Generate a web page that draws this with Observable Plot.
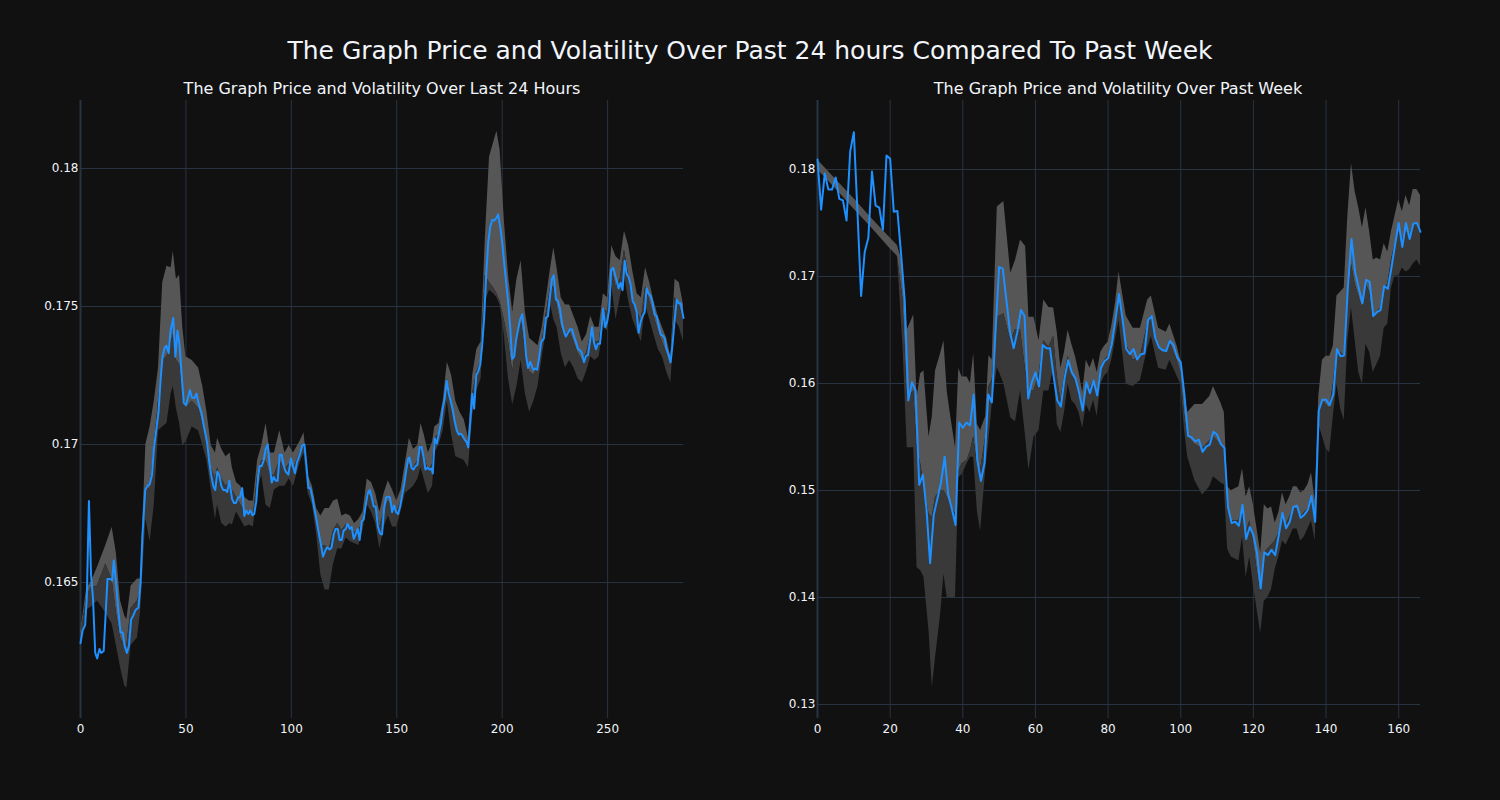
<!DOCTYPE html>
<html><head><meta charset="utf-8">
<script src="https://cdn.jsdelivr.net/npm/d3@7"></script>
<script src="https://cdn.jsdelivr.net/npm/@observablehq/plot@0.6"></script>
<style>
body{margin:0;background:#111111;width:1500px;height:800px;overflow:hidden;font-family:"DejaVu Sans",sans-serif;}
#wrap{position:relative;width:1500px;height:800px;background:#111111;}
.t{position:absolute;color:#f2f5fa;white-space:nowrap;transform:translate(-50%,-50%);line-height:1;}
.panel{position:absolute;top:0;}
</style></head><body>
<div id="wrap">
<div class="t" style="left:750px;top:50px;font-size:25px">The Graph Price and Volatility Over Past 24 hours Compared To Past Week</div>
<div class="t" style="left:382px;top:89px;font-size:16px">The Graph Price and Volatility Over Last 24 Hours</div>
<div class="t" style="left:1118px;top:89px;font-size:16px">The Graph Price and Volatility Over Past Week</div>
<div id="p1" class="panel" style="left:0"></div>
<div id="p2" class="panel" style="left:750px"></div>
</div>
<script>
// ---------- Last 24 hours ----------
const hourX = [0,1,2.2,3,4,5,5.9,7,7.9,9,9.8,11,12.8,14.2,15,15.8,17,18,19,20,20.9,22,23,24,25,26.1,27.5,28.5,29.4,30.7,31.6,32.8,33.9,34.8,35.9,37,38,38.9,39.9,40.8,41.8,42.7,44,45,46,47,48.1,49,50,51,51.9,52.8,54,55,56.2,57.3,58.4,59.3,60.1,61,62,63,63.9,64.9,65.8,66.8,67.7,68.7,69.6,70.6,71.9,72.8,73.7,74.7,75.6,76.7,77.7,78.6,79.6,80.5,81.5,82.4,83.4,84.3,85,85.9,86.9,87.8,88.8,89.7,90.7,91.6,92.6,93.5,94.5,95.4,96.4,97.3,98.6,99.8,100.8,101.7,102.7,104,105.2,106.2,107.1,108.1,109,110,110.9,111.9,112.8,114.1,115,116,116.9,118.2,119.1,120.1,121,122,122.9,123.9,124.8,125.8,126.7,127.7,128.6,129.6,130.5,131.5,132.4,133.4,134.3,135.3,136.2,137.2,138.1,139.1,140,141.1,142.1,143,144,144.9,145.9,146.8,147.8,148.7,149.7,150.6,151.6,152.5,153.5,154.4,155.4,156,157,157.9,158.9,159.8,160.8,161.7,162.7,163.6,164.6,165.5,166.5,167.1,168,169,169.9,170.9,171.8,172.8,173.7,174.7,175.6,176.6,177.5,178.5,179.4,180.4,181.3,182.3,183.2,183.9,184.8,185.8,186.7,187.7,188.6,189.6,190.5,191.5,192.4,193.4,194.3,195.3,196.2,197.2,198.1,199.1,200,201,201.9,202.8,203.8,204.7,205.7,206.6,207.6,208.5,209.5,210.4,211.4,212.3,213.3,214.7,215.7,216.6,217.6,218.5,219.8,220.7,221.7,222.6,223.6,224.5,225.5,226.4,227.4,228.4,229.3,230.2,231.2,232.2,233.1,234.1,235,236,236.9,237.8,238.8,239.7,240.7,241.6,242.6,243.5,244.5,245.4,246.4,247.3,247.9,248.9,249.8,250.8,251.7,252.7,253.6,254.6,255.2,256.2,257.1,258.1,259,260,260.9,261.9,262.8,263.8,264.7,265.7,266.6,267.6,268.5,269.5,270.4,271.4,272.3,273.3,274.2,275.2,276.1,277.1,278,279,279.9,280.9,281.8,282.8,283.7,284.7,286];
const hourPrice = [0.1628,0.16326,0.16346,0.16446,0.16795,0.16527,0.16446,0.16245,0.16225,0.16259,0.16245,0.16252,0.16513,0.16513,0.16507,0.1658,0.16487,0.16393,0.16319,0.16319,0.16272,0.16245,0.16272,0.16366,0.1638,0.164,0.16409,0.165,0.16674,0.16835,0.16849,0.16855,0.16889,0.16983,0.1705,0.17117,0.17237,0.17318,0.17351,0.17358,0.17331,0.17412,0.17458,0.17318,0.17412,0.17358,0.17237,0.1715,0.17143,0.1717,0.17197,0.1717,0.17168,0.17184,0.17143,0.17117,0.1707,0.17036,0.17003,0.16942,0.16889,0.16849,0.16835,0.16902,0.16889,0.16849,0.16835,0.16835,0.16828,0.16869,0.16802,0.16788,0.16788,0.16808,0.16808,0.16842,0.16741,0.16761,0.16748,0.16761,0.16744,0.16748,0.16795,0.16889,0.16922,0.16922,0.16942,0.16983,0.17,0.16929,0.16862,0.16882,0.16869,0.16869,0.16963,0.16963,0.16922,0.16902,0.16891,0.16949,0.16922,0.16896,0.16936,0.16963,0.16997,0.17,0.16929,0.16842,0.16842,0.16808,0.16768,0.16728,0.16688,0.16634,0.16594,0.16614,0.16627,0.1662,0.16627,0.16674,0.16694,0.16694,0.16654,0.16654,0.16688,0.16694,0.16712,0.16694,0.16701,0.16658,0.16674,0.16694,0.16654,0.16721,0.16728,0.16782,0.16822,0.16835,0.16808,0.16775,0.16775,0.16701,0.16677,0.16674,0.16768,0.16808,0.16811,0.16808,0.16755,0.16779,0.16755,0.16748,0.16775,0.16815,0.16855,0.16902,0.16949,0.16953,0.16916,0.16909,0.16922,0.16926,0.16989,0.16992,0.16956,0.16909,0.16916,0.16909,0.16913,0.16895,0.17023,0.17003,0.17036,0.17076,0.1713,0.1717,0.17231,0.17184,0.17157,0.17123,0.17083,0.1705,0.17036,0.17039,0.1703,0.17016,0.17009,0.16989,0.17076,0.17184,0.1713,0.17251,0.17264,0.17291,0.17358,0.17465,0.17613,0.17733,0.17787,0.17814,0.17811,0.1782,0.17834,0.17787,0.17733,0.17653,0.17586,0.17519,0.17425,0.17311,0.17318,0.17378,0.17418,0.17452,0.17472,0.17412,0.17318,0.17277,0.17300,0.17271,0.17275,0.17271,0.17318,0.17371,0.17385,0.17458,0.17465,0.17532,0.17599,0.17613,0.17525,0.17521,0.17492,0.17438,0.17409,0.17391,0.17405,0.17418,0.17418,0.17391,0.17371,0.17345,0.17342,0.17331,0.17298,0.1732,0.17324,0.17371,0.17425,0.17371,0.17345,0.17365,0.17365,0.17438,0.17492,0.17425,0.17445,0.17492,0.17633,0.1764,0.17613,0.17586,0.17566,0.17586,0.17559,0.17666,0.17619,0.17606,0.17579,0.17519,0.17508,0.17479,0.17405,0.17445,0.17465,0.17479,0.17566,0.17546,0.17539,0.17512,0.17472,0.17465,0.17432,0.17398,0.17395,0.17385,0.17345,0.17324,0.17298,0.17371,0.17452,0.17525,0.17512,0.17512,0.17458];
const hourBandX = [0,3,5,8,12,15,17,19,21,22,24,27,28.5,31,33,35,37,39,41,43,44,45.5,47,48.5,50,53,56,58,60,62,64,65,67,69,71,72,74,76,78,80,82,84,86,88,90,92,94.5,97,99,101,104,106,108,110,112,114,116,118,120,122,124,126,128,130,132,134,136,138,140,142,144,146,148,150,152,154,156,158,160,161.5,163,165,167,168,170,172,174,176,178,180,182,184,186,188,190,192,194,196,197.5,199,201,203,205,207,209,211,213,215,217,219,221,223,224.5,226,228,230,232,234,236,238,240,242,244,246,248,250,252,254,256,258,260,262,264,266,268,270,272,274,276,278,280,282,284,286];
const hourUpper = [0.1632,0.1648,0.165,0.16554,0.16634,0.167,0.16607,0.16433,0.16379,0.16366,0.16487,0.16513,0.16513,0.17,0.17063,0.17157,0.17277,0.17586,0.17646,0.1764,0.177,0.17599,0.17613,0.17425,0.17318,0.17304,0.17277,0.1721,0.17117,0.16996,0.16969,0.17023,0.16983,0.16956,0.16969,0.16916,0.16862,0.16849,0.16808,0.16795,0.16795,0.16942,0.16996,0.17076,0.16969,0.16969,0.1705,0.16969,0.16996,0.16969,0.17009,0.17043,0.16889,0.16849,0.16768,0.16741,0.16768,0.16768,0.16795,0.16802,0.16741,0.16748,0.16741,0.16714,0.16728,0.16755,0.16875,0.16862,0.16822,0.16755,0.16822,0.16869,0.16835,0.16795,0.16835,0.16929,0.17023,0.16983,0.16996,0.17076,0.17036,0.16969,0.17009,0.17063,0.17076,0.17157,0.17298,0.17251,0.17157,0.17117,0.1709,0.17023,0.17251,0.17345,0.17371,0.17747,0.18042,0.18095,0.18135,0.18068,0.17814,0.17613,0.17479,0.17599,0.17666,0.17479,0.17385,0.17371,0.17358,0.17425,0.17532,0.1764,0.17713,0.1764,0.17532,0.17505,0.17505,0.17465,0.17425,0.17371,0.17398,0.17465,0.17425,0.17425,0.17546,0.17532,0.1772,0.1768,0.17666,0.17773,0.1772,0.17626,0.17546,0.17532,0.1764,0.17586,0.17519,0.17465,0.17425,0.17385,0.17318,0.17599,0.17586,0.17505];
const hourMid = [0.163,0.1645,0.1648,0.16487,0.16567,0.1651,0.16393,0.16299,0.16272,0.16272,0.16406,0.16433,0.1647,0.16849,0.16835,0.16996,0.17157,0.17304,0.17318,0.17371,0.17398,0.17304,0.17291,0.17197,0.1713,0.17157,0.1713,0.17076,0.17023,0.16916,0.16875,0.16916,0.16875,0.16849,0.16862,0.16835,0.16808,0.16782,0.16755,0.16755,0.16741,0.16889,0.16942,0.16942,0.16889,0.16889,0.16942,0.16909,0.16929,0.16909,0.16969,0.16996,0.16855,0.16822,0.16728,0.16634,0.16634,0.1662,0.16688,0.16714,0.16688,0.16708,0.16701,0.16681,0.16688,0.16721,0.16822,0.16808,0.16782,0.16701,0.16755,0.16795,0.16768,0.16755,0.16795,0.16875,0.16929,0.16916,0.16942,0.16996,0.16962,0.16902,0.16929,0.17023,0.17036,0.17103,0.17237,0.17157,0.17063,0.17036,0.17016,0.16983,0.17184,0.17264,0.17304,0.17613,0.17586,0.17566,0.17546,0.17519,0.17452,0.17371,0.17264,0.17371,0.17452,0.17345,0.17264,0.17251,0.17277,0.17371,0.17479,0.17572,0.17572,0.17505,0.17425,0.17398,0.17412,0.17371,0.17331,0.17304,0.17331,0.17398,0.17371,0.17371,0.17492,0.17479,0.17639,0.17572,0.17599,0.17706,0.17613,0.17532,0.17479,0.17452,0.17572,0.17519,0.17465,0.17412,0.17371,0.17331,0.17277,0.17532,0.17505,0.17452];
const hourLower = [0.1627,0.164,0.1641,0.16433,0.1639,0.1635,0.16272,0.16192,0.16125,0.16118,0.16272,0.16299,0.16393,0.1673,0.16648,0.16781,0.1705,0.17063,0.17076,0.17184,0.1721,0.1713,0.17076,0.16996,0.17009,0.17063,0.1705,0.16996,0.16942,0.16835,0.16728,0.16781,0.16714,0.16701,0.16714,0.16708,0.16755,0.16728,0.16701,0.16708,0.16701,0.16835,0.16889,0.16781,0.16768,0.16835,0.16849,0.16849,0.16875,0.16849,0.16929,0.16969,0.16822,0.16781,0.16674,0.16527,0.16473,0.16473,0.16567,0.16621,0.16621,0.16661,0.16648,0.16641,0.16634,0.16688,0.16782,0.16755,0.16714,0.16621,0.16701,0.16741,0.16701,0.16701,0.16755,0.16822,0.16835,0.16849,0.16875,0.16916,0.16875,0.16822,0.16849,0.16969,0.16996,0.1705,0.17157,0.17036,0.16956,0.16949,0.16942,0.16916,0.17103,0.17197,0.17237,0.17519,0.17559,0.17546,0.17532,0.17505,0.17398,0.17237,0.17143,0.1721,0.17304,0.17184,0.17117,0.17157,0.1721,0.17318,0.17412,0.17505,0.17452,0.17425,0.17331,0.17278,0.17304,0.17278,0.17238,0.17224,0.17264,0.17318,0.17304,0.17318,0.17425,0.17412,0.17573,0.17452,0.17532,0.17613,0.17519,0.17452,0.17412,0.17371,0.17505,0.17452,0.17398,0.17345,0.17318,0.17264,0.17224,0.17452,0.17425,0.17371];
const hourXTicks = [0,50,100,150,200,250];
const hourYTicks = [0.165,0.17,0.175,0.18];

// ---------- Past week ----------
const weekX = d3.range(0,167);
const weekPrice = [0.18094,0.17625,0.17962,0.17812,0.17812,0.17925,0.17726,0.17711,0.17523,0.18169,0.18349,0.17606,0.16818,0.1723,0.17362,0.17981,0.17662,0.17643,0.17437,0.18131,0.18101,0.17606,0.17613,0.17212,0.1678,0.15842,0.16011,0.15935,0.15053,0.15147,0.14828,0.14321,0.14772,0.14922,0.15072,0.15316,0.1496,0.14828,0.14678,0.15635,0.15586,0.15635,0.15609,0.15898,0.15279,0.15091,0.1526,0.15898,0.15823,0.1648,0.17088,0.17073,0.1678,0.1648,0.1633,0.1648,0.16686,0.1663,0.1586,0.16011,0.16104,0.15973,0.1636,0.1633,0.1633,0.16067,0.15842,0.15785,0.16048,0.16217,0.16104,0.16048,0.15917,0.15748,0.16011,0.15909,0.16029,0.15887,0.16142,0.1621,0.16236,0.16367,0.16592,0.16836,0.16592,0.16322,0.16273,0.16322,0.16224,0.16273,0.16281,0.16592,0.1663,0.16423,0.16337,0.16311,0.16303,0.16397,0.1636,0.16247,0.16198,0.15898,0.15511,0.15496,0.15459,0.15474,0.15361,0.1541,0.15429,0.15549,0.15523,0.15436,0.15399,0.14847,0.14697,0.14708,0.1467,0.14866,0.14547,0.14659,0.14584,0.14415,0.14085,0.14423,0.14396,0.14445,0.14396,0.14584,0.14791,0.14648,0.14708,0.14847,0.14858,0.14746,0.14772,0.14821,0.14948,0.14708,0.15748,0.15849,0.15849,0.15797,0.15898,0.16322,0.16255,0.16262,0.16893,0.17351,0.17043,0.16893,0.1675,0.16968,0.16949,0.1663,0.16667,0.16686,0.16911,0.16885,0.1708,0.17298,0.17501,0.17276,0.17501,0.17351,0.17493,0.17501,0.17418];
const weekBandX = [0,5,10,15,20,22,23.5,24.7,26.5,27.4,28.4,29.3,30.7,31.6,32.5,33.9,34.8,35.7,36.6,38,38.9,39.8,41.2,42.1,43,44,44.9,46.3,47.2,48.1,49.5,51.3,53.2,54.5,55.9,57.3,58.2,59.6,61,62.3,63.7,65,66,67,68,69,70,71,72,73,74,75,76,77,78,79,80,81,82,83,85,86.9,88.9,90.9,91.9,93.9,96,97,99,100,101,101.9,103.9,106,108,109,111,112,112.9,113.9,116,117,118,119,120,121,122,123,124,125,126,127,128,129,130,131,132,133,134,135,136,137,138,139,140,141,142,143,144,145,146,147,148,149,150,151,152,153,154,155,156,157,158,159,160,161,162,163,164,165,166];
const weekUpper = [0.1809,0.1791,0.1773,0.1754,0.1736,0.1729,0.1712,0.165,0.1664,0.1587,0.1609,0.1612,0.155,0.1569,0.1612,0.1628,0.164,0.1593,0.1571,0.154,0.1614,0.1606,0.1606,0.16,0.1628,0.1562,0.1556,0.1569,0.1626,0.1622,0.1765,0.177,0.1703,0.1715,0.1734,0.1728,0.1662,0.1662,0.164,0.1678,0.1671,0.16705,0.1648,0.16142,0.16292,0.16498,0.16367,0.16254,0.16104,0.15917,0.16217,0.16142,0.16236,0.16104,0.16292,0.16348,0.16386,0.16536,0.16742,0.17043,0.1663,0.16517,0.16517,0.1678,0.16818,0.16517,0.1648,0.16555,0.16348,0.16217,0.15917,0.15729,0.15804,0.15804,0.15879,0.15973,0.15823,0.15729,0.15034,0.14997,0.15034,0.15203,0.14941,0.15034,0.14866,0.1464,0.14415,0.14866,0.14828,0.14847,0.14697,0.14791,0.14978,0.14866,0.14941,0.15034,0.15034,0.14978,0.14997,0.15053,0.15166,0.14903,0.15879,0.16217,0.16254,0.16254,0.16348,0.16818,0.16855,0.16893,0.17568,0.18056,0.17794,0.17643,0.17456,0.17643,0.17418,0.17155,0.17174,0.17155,0.17306,0.1723,0.17418,0.17568,0.17718,0.17606,0.17756,0.17662,0.17812,0.17812,0.17756];
const weekMid = [0.18,0.1782,0.1763,0.1745,0.1726,0.1719,0.168,0.1587,0.1593,0.154,0.1525,0.1506,0.1478,0.1475,0.1494,0.15,0.15,0.1494,0.1487,0.1478,0.1518,0.1525,0.1528,0.1537,0.155,0.1525,0.1519,0.155,0.1597,0.1603,0.1662,0.1665,0.164,0.165,0.165,0.1612,0.1593,0.1593,0.1609,0.164,0.1634,0.16442,0.16067,0.15842,0.16067,0.16254,0.16104,0.16029,0.15917,0.15729,0.15992,0.15954,0.16029,0.15898,0.16142,0.16217,0.16254,0.16367,0.16592,0.16818,0.16367,0.16217,0.16254,0.16555,0.1663,0.1633,0.16292,0.16386,0.16217,0.16104,0.15729,0.15504,0.15429,0.15391,0.15466,0.15504,0.15429,0.15391,0.14828,0.14715,0.14715,0.14828,0.14603,0.14715,0.14528,0.14265,0.1404,0.14415,0.14453,0.1449,0.14528,0.14603,0.14753,0.14678,0.14753,0.14828,0.14828,0.14753,0.14791,0.14828,0.14941,0.14715,0.15729,0.15842,0.15804,0.15767,0.15992,0.16292,0.16292,0.16254,0.16818,0.17118,0.1693,0.16818,0.16705,0.1693,0.16855,0.16592,0.16667,0.16705,0.16893,0.1693,0.17155,0.17306,0.17418,0.17343,0.17418,0.17381,0.17493,0.17493,0.17456];
const weekLower = [0.18,0.1782,0.1763,0.1745,0.1726,0.1719,0.1637,0.154,0.154,0.1428,0.1425,0.1419,0.1369,0.1316,0.1344,0.1384,0.1422,0.14,0.14,0.14,0.1512,0.1515,0.1525,0.1531,0.1531,0.1481,0.1462,0.1519,0.1547,0.1581,0.1615,0.16,0.1568,0.1564,0.1593,0.155,0.1519,0.155,0.1556,0.1593,0.1593,0.16142,0.15616,0.15541,0.15729,0.15992,0.15842,0.15804,0.15729,0.15579,0.15804,0.15729,0.15842,0.15691,0.15992,0.16067,0.16104,0.16217,0.16405,0.16592,0.15992,0.15973,0.16029,0.1633,0.16442,0.16142,0.16123,0.16217,0.16067,0.15992,0.15579,0.15316,0.15091,0.14959,0.15034,0.15128,0.15072,0.15053,0.14453,0.14378,0.1434,0.14565,0.1419,0.14378,0.14115,0.1389,0.13664,0.13965,0.14002,0.14077,0.14265,0.14378,0.14528,0.1449,0.14565,0.1464,0.1464,0.14528,0.14565,0.1464,0.14715,0.14528,0.15616,0.15504,0.15391,0.15353,0.15691,0.15992,0.15766,0.15654,0.16405,0.16705,0.16405,0.16104,0.15992,0.16367,0.16292,0.16104,0.1618,0.16254,0.16517,0.16555,0.16893,0.17005,0.17005,0.1708,0.17043,0.17062,0.17118,0.17155,0.17099];
const weekXTicks = [0,20,40,60,80,100,120,140,160];
const weekYTicks = [0.13,0.14,0.15,0.16,0.17,0.18];

const GRID = "#283442", TXT = "#f2f5fa", BLUE = "#1e90ff", LIGHT = "#565656", DARK = "#393939";

function panel(opts) {
  const price = opts.px.map((x, i) => ({x, y: opts.py[i]}));
  const band = opts.bx.map((x, i) => ({x, up: opts.up[i], mid: opts.mid[i], lo: opts.lo[i]}));
  return Plot.plot({
    width: 750, height: 800,
    marginTop: 100, marginBottom: 82, marginLeft: opts.ml, marginRight: opts.mr,
    style: {background: "transparent", color: TXT, fontSize: "12px", fontFamily: "DejaVu Sans, sans-serif"},
    x: {domain: opts.xd, label: null},
    y: {domain: opts.yd, label: null},
    marks: [
      Plot.gridX(opts.xt, {stroke: GRID, strokeOpacity: 1, strokeWidth: 1}),
      Plot.gridY(opts.yt, {stroke: GRID, strokeOpacity: 1, strokeWidth: 1}),
      Plot.ruleX([0], {stroke: GRID, strokeWidth: 2}),
      Plot.areaY(band, {x: "x", y1: "mid", y2: "up", fill: LIGHT, curve: "linear"}),
      Plot.areaY(band, {x: "x", y1: "lo", y2: "mid", fill: DARK, curve: "linear"}),
      Plot.line(price, {x: "x", y: "y", stroke: BLUE, strokeWidth: 2, curve: "linear"}),
      Plot.axisX(opts.xt, {tickSize: 0, tickPadding: 6, fill: TXT, fontSize: 12}),
      Plot.axisY(opts.yt, {tickSize: 0, tickPadding: 2, fill: TXT, fontSize: 12, tickFormat: d => String(+d.toFixed(3))})
    ]
  });
}

document.getElementById("p1").append(panel({
  px: hourX, py: hourPrice, bx: hourBandX, up: hourUpper, mid: hourMid, lo: hourLower,
  xd: [0, 286], yd: [0.160072, 0.182464], xt: hourXTicks, yt: hourYTicks, ml: 80, mr: 67
}));
document.getElementById("p2").append(panel({
  px: weekX, py: weekPrice, bx: weekBandX, up: weekUpper, mid: weekMid, lo: weekLower,
  xd: [0, 166], yd: [0.128692, 0.186449], xt: weekXTicks, yt: weekYTicks, ml: 67, mr: 80
}));
</script>
</body></html>
